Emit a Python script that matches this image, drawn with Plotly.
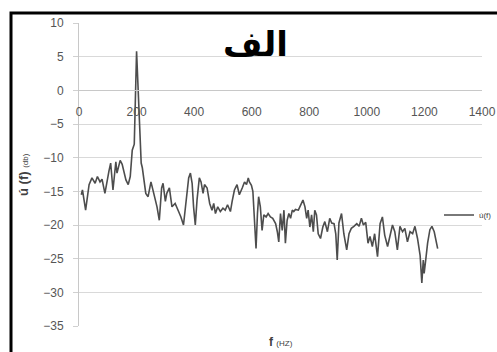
import plotly.graph_objects as go

# Spectrum of u(f): frequency in Hz, level in dB
freq_hz = [8, 12, 23, 35, 45, 56, 64, 73, 80, 90, 104, 110, 118, 128, 132, 143, 150,
           163, 171, 178, 185, 192, 200, 210, 216, 220, 232, 240, 250, 258, 271, 279,
           287, 292, 300, 305, 314, 323, 334, 346, 354, 363, 373, 381, 387, 393, 398,
           404, 410, 418, 424, 431, 436, 445, 454, 462, 468, 474, 482, 491, 500, 508,
           516, 526, 532, 540, 549, 557, 567, 575, 582, 588, 592, 599, 604, 611, 615,
           620, 624, 630, 636, 642, 650, 657, 665, 673, 683, 689, 694, 700, 706, 712,
           717, 723, 729, 735, 741, 746, 752, 762, 770, 778, 785, 791, 796, 802, 808,
           814, 819, 825, 831, 839, 847, 854, 863, 871, 878, 886, 892, 897, 903, 912,
           920, 930, 938, 946, 955, 965, 973, 981, 988, 996, 1004, 1011, 1019, 1027,
           1037, 1046, 1054, 1062, 1072, 1081, 1089, 1097, 1106, 1115, 1124, 1132,
           1141, 1150, 1159, 1167, 1176, 1185, 1191, 1196, 1199, 1205, 1211, 1219,
           1226, 1234, 1240, 1246]
level_db = [-15.5, -14.8, -17.8, -14.0, -13.0, -13.8, -12.8, -13.6, -13.2, -15.3, -12.0,
            -10.8, -14.8, -10.6, -12.3, -10.4, -11.0, -13.3, -14.0, -12.8, -8.9, -8.0,
            5.8, -5.0, -10.8, -11.5, -15.3, -15.8, -13.6, -15.0, -17.3, -19.3, -14.5,
            -13.8, -16.5, -15.3, -14.5, -17.3, -16.8, -18.0, -18.8, -20.0, -16.3, -13.0,
            -12.3, -13.8, -17.3, -20.0, -16.3, -13.0, -13.6, -15.3, -14.0, -14.5, -16.8,
            -17.8, -16.8, -18.3, -17.3, -18.0, -17.5, -17.8, -17.0, -18.0, -16.5, -14.8,
            -14.0, -15.5, -14.5, -13.6, -14.0, -13.0, -13.6, -14.1, -15.0, -20.0, -23.5,
            -18.3, -15.8, -17.3, -20.8, -18.5, -18.8, -18.3, -18.8, -19.0, -19.8, -21.0,
            -22.5, -18.3, -20.8, -17.8, -22.7, -19.3, -18.3, -19.0, -17.8, -18.0, -17.7,
            -17.8, -17.0, -16.3, -17.3, -19.0, -17.8, -20.3, -18.5, -21.0, -17.8, -18.5,
            -21.3, -22.0, -20.3, -19.5, -21.0, -19.0, -19.7, -19.8, -21.3, -25.2, -19.7,
            -18.3, -21.3, -23.7, -21.3, -20.5, -20.2, -19.8, -20.2, -19.0, -20.0, -19.6,
            -22.7, -21.7, -23.2, -21.3, -24.7, -19.8, -18.8, -21.5, -23.2, -21.3, -20.0,
            -21.0, -23.7, -20.2, -21.0, -20.5, -22.5, -21.0, -21.3, -20.2, -22.0, -24.5,
            -28.6, -25.2, -27.2, -25.0, -22.7, -20.7, -20.2, -21.0, -22.2, -23.5]

x_ticks = [0, 200, 400, 600, 800, 1000, 1200, 1400]
y_ticks = [10, 5, 0, -5, -10, -15, -20, -25, -30, -35]
y_min, y_max = -35, 10

W, H = 497, 352
L, R, T, B = 79, 15, 23, 26
pw, ph = W - L - R, H - T - B


def px_x(p):
    return (p - L) / pw


def px_y(p):
    return (H - B - p) / ph


tick_font = dict(family="Liberation Sans", size=12, color="#555555")

fig = go.Figure()
fig.add_trace(go.Scatter(
    x=freq_hz, y=level_db, mode="lines", name="ú(f)",
    line=dict(color="#4d4d4d", width=1.6),
))

fig.update_layout(
    width=W, height=H,
    margin=dict(l=L, r=R, t=T, b=B, autoexpand=False),
    paper_bgcolor="white", plot_bgcolor="white",
    showlegend=True,
    legend=dict(
        x=px_x(439), y=px_y(215), xanchor="left", yanchor="middle",
        bgcolor="rgba(0,0,0,0)", itemwidth=30,
        font=dict(family="Liberation Sans", size=8, color="#404040"),
    ),
    xaxis=dict(
        range=[0, 1400], tickvals=x_ticks, showgrid=False, zeroline=False,
        showline=True, linecolor="#c8c8c8", linewidth=1,
        anchor="free", position=(0 - y_min) / (y_max - y_min),
        ticks="", ticklabelstandoff=10, tickfont=tick_font,
    ),
    yaxis=dict(
        range=[y_min, y_max], tickvals=y_ticks, showgrid=True,
        gridcolor="#d9d9d9", gridwidth=1, zeroline=False,
        showline=True, linecolor="#c8c8c8", linewidth=1,
        ticks="outside", ticklen=5, tickcolor="#d0d0d0",
        ticklabelstandoff=7, tickfont=tick_font,
    ),
    shapes=[dict(
        type="rect", xref="paper", yref="paper",
        x0=px_x(11), x1=px_x(520), y0=px_y(380), y1=px_y(13),
        line=dict(color="black", width=3), fillcolor="rgba(0,0,0,0)",
    )],
    annotations=[
        dict(text="<b>الف</b>", xref="paper", yref="paper",
             x=px_x(255), y=px_y(44), xanchor="center", yanchor="middle",
             showarrow=False,
             font=dict(family="DejaVu Sans", size=34, color="black")),
        dict(text="<b>f</b> <span style='font-size:8px'>(HZ)</span>",
             xref="paper", yref="paper", x=px_x(281), y=px_y(342),
             xanchor="center", yanchor="middle", showarrow=False,
             font=dict(family="Liberation Sans", size=12, color="#404040")),
        dict(text="<b>ú (f)</b> <span style='font-size:8px'>(db)</span>",
             xref="paper", yref="paper", x=px_x(23), y=px_y(175),
             xanchor="center", yanchor="middle", showarrow=False, textangle=-90,
             font=dict(family="Liberation Sans", size=13, color="#404040")),
    ],
)

fig.write_html("out.html")
